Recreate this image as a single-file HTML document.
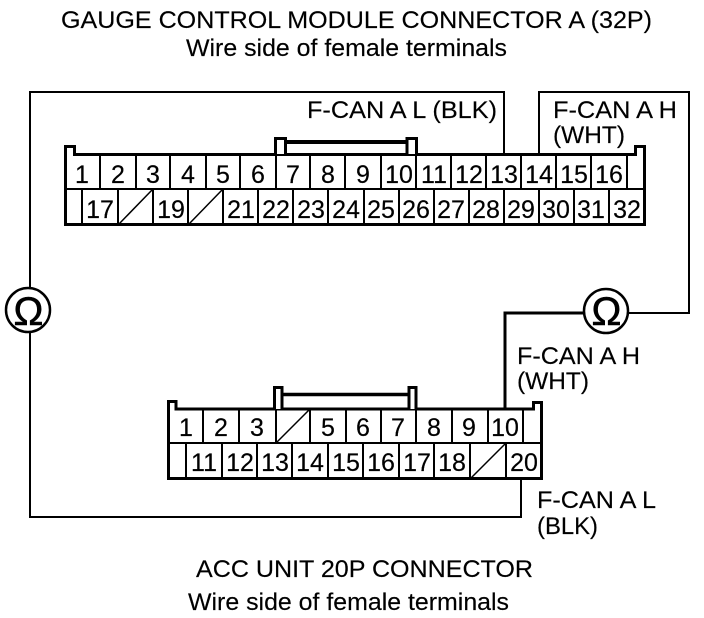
<!DOCTYPE html>
<html>
<head>
<meta charset="utf-8">
<style>
html,body{margin:0;padding:0;background:#fff;width:704px;height:618px;overflow:hidden}
svg{display:block}
text{font-family:"Liberation Sans",Arial,sans-serif;fill:#000}
.t{font-size:24px;stroke:#000;stroke-width:.15}
.n{font-size:25px;text-anchor:middle;stroke:#000;stroke-width:.2}
</style>
</head>
<body>
<svg width="704" height="618" viewBox="0 0 704 618" xmlns="http://www.w3.org/2000/svg">
<rect width="704" height="618" fill="#fff"/>

<text class="t" x="61" y="28" textLength="591" lengthAdjust="spacingAndGlyphs">GAUGE CONTROL MODULE CONNECTOR A (32P)</text>
<text class="t" x="186" y="56" textLength="321" lengthAdjust="spacingAndGlyphs">Wire side of female terminals</text>
<text class="t" x="307" y="118" textLength="190" lengthAdjust="spacingAndGlyphs">F-CAN A L (BLK)</text>
<text class="t" x="553" y="118" textLength="124" lengthAdjust="spacingAndGlyphs">F-CAN A H</text>
<text class="t" x="553" y="143" textLength="72" lengthAdjust="spacingAndGlyphs">(WHT)</text>
<text class="t" x="517" y="364" textLength="123" lengthAdjust="spacingAndGlyphs">F-CAN A H</text>
<text class="t" x="517" y="389" textLength="72" lengthAdjust="spacingAndGlyphs">(WHT)</text>
<text class="t" x="537" y="508" textLength="119" lengthAdjust="spacingAndGlyphs">F-CAN A L</text>
<text class="t" x="537" y="534" textLength="61" lengthAdjust="spacingAndGlyphs">(BLK)</text>
<text class="t" x="196" y="577" textLength="337" lengthAdjust="spacingAndGlyphs">ACC UNIT 20P CONNECTOR</text>
<text class="t" x="188" y="610" textLength="321" lengthAdjust="spacingAndGlyphs">Wire side of female terminals</text>

<!-- wires -->
<g fill="none" stroke="#000" stroke-width="2">
<path d="M30 288V92H504V154"/>
<path d="M30 333V517H521V479"/>
<path d="M539 154V92H689V313H628"/>
<path d="M584 313H505V408" stroke-width="3"/>
</g>

<!-- omega symbols -->
<g fill="none" stroke="#000" stroke-width="2.5">
<circle cx="28" cy="310" r="22"/>
<circle cx="606" cy="311" r="22"/>
</g>
<text x="28.500" y="325" font-size="40" text-anchor="middle" stroke="#000" stroke-width=".6">Ω</text>
<text x="606.500" y="325" font-size="40" text-anchor="middle" stroke="#000" stroke-width=".6">Ω</text>

<!-- top connector -->
<path d="M65.500 224.500V146.500H74.500V154.500H635.500V146.500H644.500V224.500Z" fill="#fff" stroke="#000" stroke-width="3"/>
<path d="M275.500 154V138.500H285.500V154M407 154V138.500H416.500V154" fill="#fff" stroke="#000" stroke-width="3"/>
<path d="M285 142H407" stroke="#000" stroke-width="4"/>
<path d="M65 189H644" stroke="#000" stroke-width="2"/>
<path d="M100 155V189M136 155V189M170 155V189M206 155V189M240 155V189M276 155V189M310 155V189M345 155V189M381 155V189M416 155V189M451 155V189M486 155V189M521 155V189M556 155V189M591 155V189M627 155V189" stroke="#000" stroke-width="2"/>
<path d="M82 189V225M118 189V225M153 189V225M188 189V225M223 189V225M258 189V225M293 189V225M328 189V225M364 189V225M399 189V225M434 189V225M469 189V225M504 189V225M539 189V225M574 189V225M609 189V225" stroke="#000" stroke-width="2"/>
<path d="M119 224L152 190M189 224L222 190" stroke="#000" stroke-width="1.5"/>
<text class="n" x="82" y="183">1</text><text class="n" x="118" y="183">2</text><text class="n" x="153" y="183">3</text><text class="n" x="188" y="183">4</text>
<text class="n" x="223" y="183">5</text><text class="n" x="258" y="183">6</text><text class="n" x="293" y="183">7</text><text class="n" x="328" y="183">8</text>
<text class="n" x="363" y="183">9</text><text class="n" x="399" y="183">10</text><text class="n" x="434" y="183">11</text><text class="n" x="469" y="183">12</text>
<text class="n" x="504" y="183">13</text><text class="n" x="539" y="183">14</text><text class="n" x="574" y="183">15</text><text class="n" x="609" y="183">16</text>
<text class="n" x="100" y="218">17</text><text class="n" x="171" y="218">19</text><text class="n" x="241" y="218">21</text><text class="n" x="276" y="218">22</text>
<text class="n" x="311" y="218">23</text><text class="n" x="346" y="218">24</text><text class="n" x="381" y="218">25</text><text class="n" x="416" y="218">26</text>
<text class="n" x="451" y="218">27</text><text class="n" x="486" y="218">28</text><text class="n" x="521" y="218">29</text><text class="n" x="556" y="218">30</text>
<text class="n" x="591" y="218">31</text><text class="n" x="627" y="218">32</text>

<!-- bottom connector -->
<path d="M168.500 478.500V401.500H176V409H533.500V402.500H541.500V478.500Z" fill="#fff" stroke="#000" stroke-width="3"/>
<path d="M274.500 409V387.500H282V409M409 409V387.500H416V409" fill="#fff" stroke="#000" stroke-width="3"/>
<path d="M282 394.500H409" stroke="#000" stroke-width="3.500"/>
<path d="M168 443H541" stroke="#000" stroke-width="2"/>
<path d="M203 409V443M239 409V443M276 409V443M310 409V443M346 409V443M381 409V443M416 409V443M452 409V443M488 409V443M523 409V443" stroke="#000" stroke-width="2"/>
<path d="M186 443V479M222 443V479M257 443V479M292 443V479M328 443V479M363 443V479M399 443V479M434 443V479M470 443V479M506 443V479" stroke="#000" stroke-width="2"/>
<path d="M277 442L309 410M471 478L505 444" stroke="#000" stroke-width="1.5"/>
<text class="n" x="186" y="436">1</text><text class="n" x="221" y="436">2</text><text class="n" x="257" y="436">3</text>
<text class="n" x="328" y="436">5</text><text class="n" x="363" y="436">6</text><text class="n" x="398" y="436">7</text>
<text class="n" x="434" y="436">8</text><text class="n" x="469" y="436">9</text><text class="n" x="505" y="436">10</text>
<text class="n" x="204" y="471">11</text><text class="n" x="240" y="471">12</text><text class="n" x="275" y="471">13</text>
<text class="n" x="310" y="471">14</text><text class="n" x="346" y="471">15</text><text class="n" x="381" y="471">16</text>
<text class="n" x="417" y="471">17</text><text class="n" x="452" y="471">18</text><text class="n" x="524" y="471">20</text>
</svg>
</body>
</html>
